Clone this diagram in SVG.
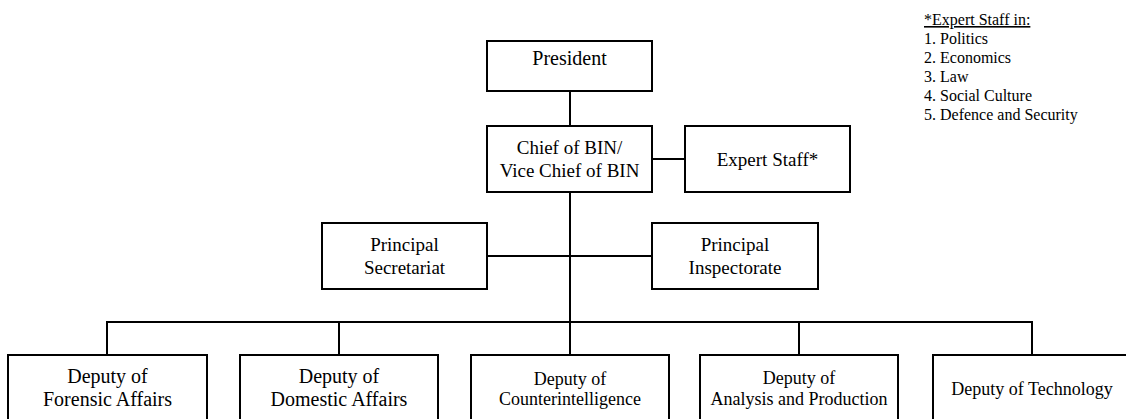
<svg xmlns="http://www.w3.org/2000/svg" width="1126" height="419" viewBox="0 0 1126 419">
  <style>
    .box { fill: #ffffff; stroke: #000000; stroke-width: 2; }
    .line { fill: none; stroke: #000000; stroke-width: 2; }
    text { font-family: "Liberation Serif", "Times New Roman", serif; fill: #000000; text-anchor: middle; }
    .t20 { font-size: 20px; }
    .t19 { font-size: 19px; }
    .t18 { font-size: 18px; }
    .note { font-size: 16px; text-anchor: start; }
  </style>
  <rect width="1126" height="419" fill="#ffffff"/>

  <!-- connectors -->
  <g id="connectors">
    <line class="line" x1="570" y1="91" x2="570" y2="126"/>
    <line class="line" x1="652" y1="159" x2="685" y2="159"/>
    <line class="line" x1="570" y1="192" x2="570" y2="355"/>
    <line class="line" x1="487" y1="256" x2="652" y2="256"/>
    <line class="line" x1="107" y1="322" x2="1032" y2="322"/>
    <line class="line" x1="107" y1="321" x2="107" y2="355"/>
    <line class="line" x1="339" y1="322" x2="339" y2="355"/>
    <line class="line" x1="799" y1="322" x2="799" y2="355"/>
    <line class="line" x1="1032" y1="321" x2="1032" y2="355"/>
  </g>

  <g id="president">
    <rect class="box" x="487" y="41" width="165" height="50"/>
    <text class="t20" x="569.5" y="65">President</text>
  </g>

  <g id="chief">
    <rect class="box" x="487" y="126" width="165" height="66"/>
    <text class="t19" x="569.5" y="154">Chief of BIN/</text>
    <text class="t19" x="569.5" y="177">Vice Chief of BIN</text>
  </g>

  <g id="expert-staff">
    <rect class="box" x="685" y="126" width="165" height="66"/>
    <text class="t19" x="767.5" y="166">Expert Staff*</text>
  </g>

  <g id="principal-secretariat">
    <rect class="box" x="322" y="223" width="165" height="66"/>
    <text class="t19" x="404.5" y="251">Principal</text>
    <text class="t19" x="404.5" y="274">Secretariat</text>
  </g>

  <g id="principal-inspectorate">
    <rect class="box" x="652" y="223" width="166" height="66"/>
    <text class="t19" x="735" y="251">Principal</text>
    <text class="t19" x="735" y="274">Inspectorate</text>
  </g>

  <g id="deputy-forensic">
    <rect class="box" x="8" y="355" width="199" height="80"/>
    <text class="t20" x="107.5" y="383">Deputy of</text>
    <text class="t20" x="107.5" y="406">Forensic Affairs</text>
  </g>

  <g id="deputy-domestic">
    <rect class="box" x="240" y="355" width="198" height="80"/>
    <text class="t20" x="339" y="383">Deputy of</text>
    <text class="t20" x="339" y="406">Domestic Affairs</text>
  </g>

  <g id="deputy-counterintelligence">
    <rect class="box" x="471" y="355" width="198" height="80"/>
    <text class="t18" x="570" y="385">Deputy of</text>
    <text class="t18" x="570" y="405">Counterintelligence</text>
  </g>

  <g id="deputy-analysis">
    <rect class="box" x="700" y="355" width="198" height="80"/>
    <text class="t18" x="799" y="384">Deputy of</text>
    <text class="t18" x="799" y="405">Analysis and Production</text>
  </g>

  <g id="deputy-technology">
    <rect class="box" x="933" y="355" width="198" height="80"/>
    <text class="t18" x="1032" y="395">Deputy of Technology</text>
  </g>

  <!-- footnote listing the expert staff fields -->
  <g id="expert-note">
    <text class="note" x="924" y="25" text-decoration="underline">*Expert Staff in:</text>
    <text class="note" x="924" y="44">1. Politics</text>
    <text class="note" x="924" y="63">2. Economics</text>
    <text class="note" x="924" y="82">3. Law</text>
    <text class="note" x="924" y="101">4. Social Culture</text>
    <text class="note" x="924" y="120">5. Defence and Security</text>
  </g>
</svg>
